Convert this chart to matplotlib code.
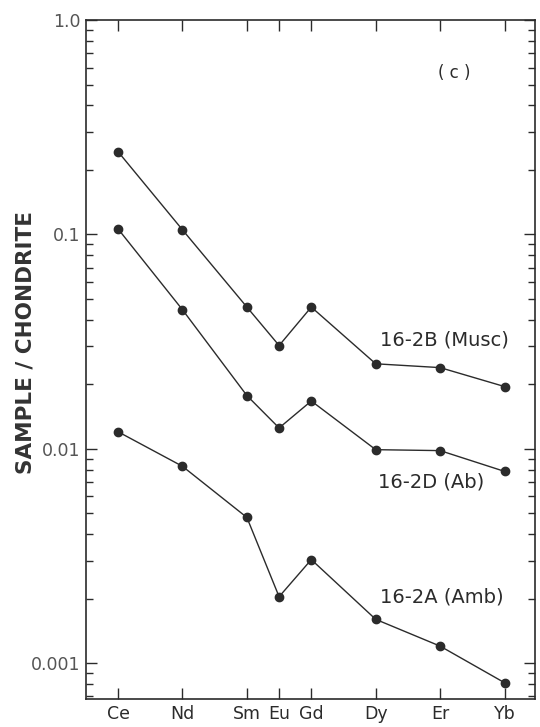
import matplotlib
matplotlib.use("Agg")
import matplotlib.pyplot as plt
from matplotlib.ticker import LogLocator, NullFormatter

elements = ["Ce", "Nd", "Sm", "Eu", "Gd", "Dy", "Er", "Yb"]
atomic_numbers = [58, 60, 62, 63, 64, 66, 68, 70]

musc_16_2B = [0.243, 0.105, 0.0458, 0.0303, 0.0458, 0.0249, 0.0239, 0.0195]
ab_16_2D = [0.106, 0.0445, 0.0177, 0.0125, 0.0167, 0.0099, 0.0098, 0.00784]
amb_16_2A = [0.0120, 0.00828, 0.00478, 0.00204, 0.00304, 0.00160, 0.00120, 0.00081]

series_labels = ["16-2B (Musc)", "16-2D (Ab)", "16-2A (Amb)"]

plt.rcParams['font.family'] = ['DejaVu Sans']

fig = plt.figure(figsize=(5.4, 7.27), dpi=100)
ax = fig.add_axes([0.159, 0.0385, 0.832, 0.934])

col = "#2b2b2b"
for ys in (musc_16_2B, ab_16_2D, amb_16_2A):
    ax.plot(atomic_numbers, ys, color=col, lw=1.0, marker="o", ms=6,
            markerfacecolor=col, markeredgecolor=col)

ax.set_yscale("log")
ax.set_ylim(0.00068, 1.0)
ax.set_xlim(57, 70.95)

ax.set_xticks(atomic_numbers)
ax.set_xticklabels(elements, fontsize=12.5, color=col)
ax.set_yticks([0.001, 0.01, 0.1, 1.0])
ax.set_yticklabels(["0.001", "0.01", "0.1", "1.0"], fontsize=12.5, color="#555555")
ax.yaxis.set_minor_locator(LogLocator(base=10, subs=range(2, 10)))
ax.yaxis.set_minor_formatter(NullFormatter())

ax.tick_params(axis="both", which="major", direction="in", length=8, width=1.0,
               top=True, right=True, color=col, pad=4)
ax.tick_params(axis="y", which="minor", direction="in", length=5, width=1.0,
               right=True, left=True, color=col)
ax.tick_params(axis="x", which="major", pad=4)
for s in ax.spines.values():
    s.set_color(col)
    s.set_linewidth(1.2)

ax.set_ylabel("SAMPLE / CHONDRITE", fontsize=15.5, fontweight="bold", color="#333333")
ax.yaxis.set_label_coords(-0.113, 0.525)

ax.text(68.13, 0.0322, series_labels[0], fontsize=14, ha="center", va="center", color=col)
ax.text(67.73, 0.00702, series_labels[1], fontsize=14, ha="center", va="center", color=col)
ax.text(68.04, 0.00204, series_labels[2], fontsize=14, ha="center", va="center", color=col)
ax.text(68.44, 0.566, "( c )", fontsize=12, ha="center", va="center", color=col)

fig.savefig("out.png", dpi=100)
